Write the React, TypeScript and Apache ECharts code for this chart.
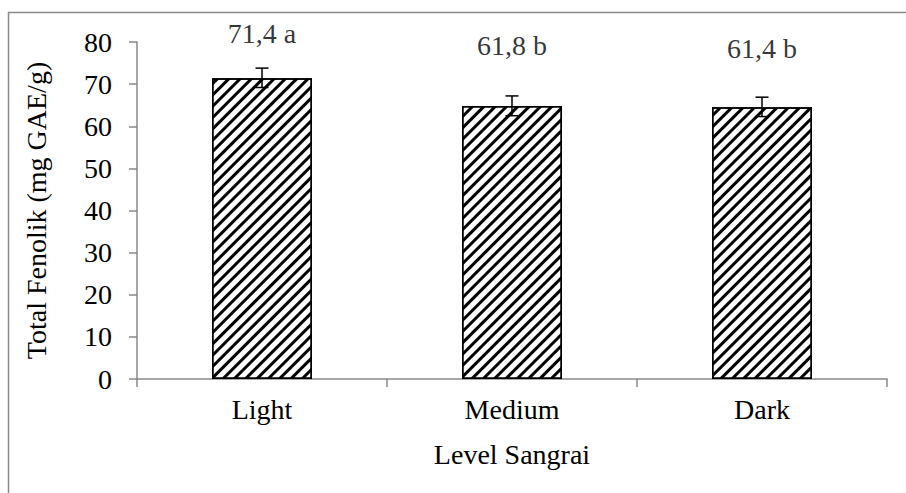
import React, { useEffect, useRef } from "react";
import * as echarts from "echarts";

const categories = ["Light", "Medium", "Dark"];
const means = [71.4, 64.8, 64.5];
const errLow = [69.2, 62.5, 62.3];
const errHigh = [73.8, 67.2, 66.9];
const labelTexts = ["71,4 a", "61,8 b", "61,4 b"];
const labelY = [81.9, 79.2, 78.4];
const yTicks = [0, 10, 20, 30, 40, 50, 60, 70, 80];

const FONT = "Liberation Serif";
const AXIS = "#898989";
const FS = 28;

export default function App() {
  const ref = useRef<HTMLDivElement>(null);
  useEffect(() => {
    document.body.style.margin = "0";
    const chart = echarts.init(ref.current!, null, { renderer: "svg" });
    chart.setOption({
      animation: false,
      backgroundColor: "#fff",
      textStyle: { fontFamily: FONT },
      graphic: [
        {
          type: "rect",
          shape: { x: 8.5, y: 12.5, width: 910, height: 500 },
          style: { fill: "none", stroke: AXIS, lineWidth: 1.5 },
          silent: true,
        },
      ],
      grid: { left: 137, right: 19, top: 42, bottom: 114 },
      xAxis: {
        type: "category",
        data: categories,
        name: "Level Sangrai",
        nameLocation: "middle",
        nameGap: 61,
        nameTextStyle: { fontFamily: FONT, fontSize: FS, color: "#000" },
        axisLine: { lineStyle: { color: AXIS, width: 1.5 } },
        axisTick: { show: true, length: 8, lineStyle: { color: AXIS, width: 1.5 } },
        axisLabel: { fontFamily: FONT, fontSize: FS, color: "#000", margin: 16 },
      },
      yAxis: {
        type: "value",
        min: yTicks[0],
        max: yTicks[yTicks.length - 1],
        interval: 10,
        name: "Total Fenolik (mg GAE/g)",
        nameLocation: "middle",
        nameGap: 87,
        nameTextStyle: { fontFamily: FONT, fontSize: FS, color: "#000" },
        axisLine: { show: true, lineStyle: { color: AXIS, width: 1.5 } },
        axisTick: { show: true, length: 8, lineStyle: { color: AXIS, width: 1.5 } },
        axisLabel: { fontFamily: FONT, fontSize: FS, color: "#000", margin: 25 },
        splitLine: { show: false },
      },
      series: [
        {
          type: "bar",
          data: means,
          barWidth: "40%",
          itemStyle: {
            color: "#fff",
            borderColor: "#000",
            borderWidth: 1.5,
            decal: {
              symbol: "rect",
              symbolSize: 1,
              color: "#000",
              backgroundColor: "#fff",
              dashArrayX: [1, 0],
              dashArrayY: [3, 5],
              rotation: -Math.PI / 4,
            },
          },
          z: 2,
        },
        {
          type: "custom",
          data: categories.map((_, i) => [i, errLow[i], errHigh[i]]),
          z: 5,
          renderItem: (params: any, api: any) => {
            const lo = api.coord([api.value(0), api.value(1)]);
            const hi = api.coord([api.value(0), api.value(2)]);
            const w = 6.5;
            const st = { stroke: "#000", lineWidth: 1.5 };
            return {
              type: "group",
              children: [
                { type: "line", shape: { x1: lo[0], y1: lo[1], x2: hi[0], y2: hi[1] }, style: st },
                { type: "line", shape: { x1: hi[0] - w, y1: hi[1], x2: hi[0] + w, y2: hi[1] }, style: st },
                { type: "line", shape: { x1: lo[0] - w, y1: lo[1], x2: lo[0] + w, y2: lo[1] }, style: st },
              ],
            };
          },
        },
        {
          type: "scatter",
          data: categories.map((_, i) => [i, labelY[i]]),
          symbolSize: 0,
          silent: true,
          clip: false,
          label: {
            show: true,
            position: "inside",
            fontFamily: FONT,
            fontSize: FS,
            color: "#000",
            formatter: (p: any) => labelTexts[p.dataIndex],
          },
        },
      ],
    });
    return () => chart.dispose();
  }, []);
  return <div ref={ref} style={{ width: 906, height: 493 }} />;
}
